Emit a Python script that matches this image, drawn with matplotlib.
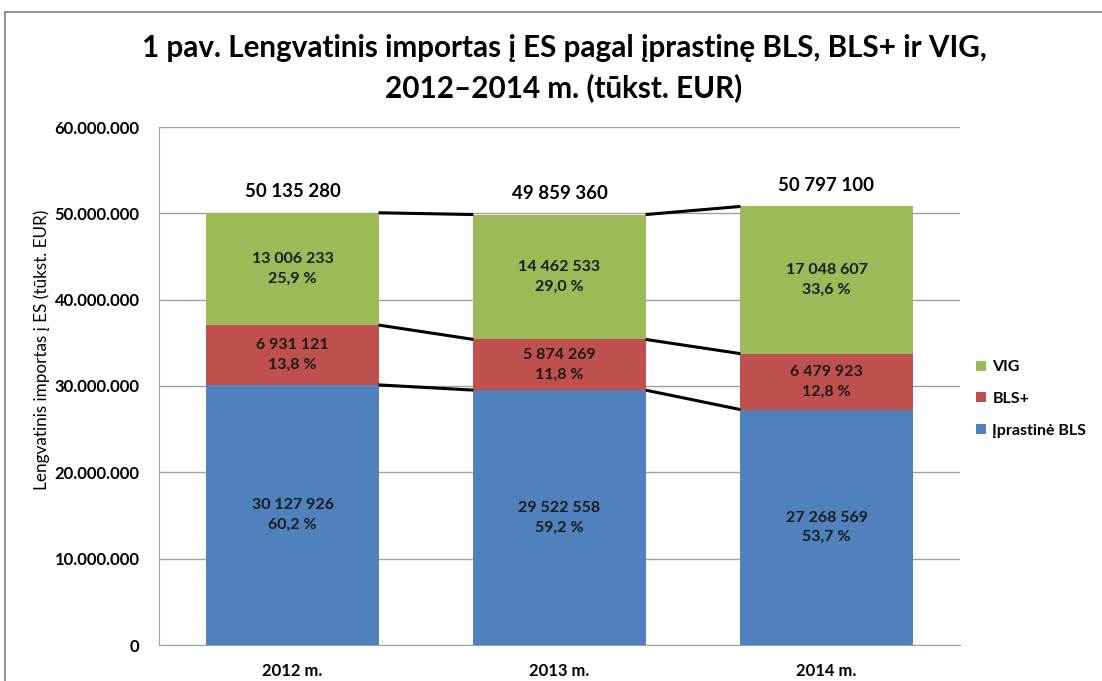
import matplotlib
matplotlib.use("Agg")
import matplotlib.pyplot as plt
import numpy as np
from matplotlib.lines import Line2D

plt.rcParams['font.family'] = ['Lato', 'DejaVu Sans']
plt.rcParams['font.weight'] = 'bold'

years = ["2012 m.", "2013 m.", "2014 m."]
series_names = ["Įprastinė BLS", "BLS+", "VIG"]
iprastine = [30127926, 29522558, 27268569]
bls_plus = [6931121, 5874269, 6479923]
vig = [13006233, 14462533, 17048607]
totals = [50135280, 49859360, 50797100]
pct_iprastine = ["60,2 %", "59,2 %", "53,7 %"]
pct_bls_plus = ["13,8 %", "11,8 %", "12,8 %"]
pct_vig = ["25,9 %", "29,0 %", "33,6 %"]
yticks = [0, 10000000, 20000000, 30000000, 40000000, 50000000, 60000000]
ytick_labels = ["0", "10.000.000", "20.000.000", "30.000.000", "40.000.000", "50.000.000", "60.000.000"]

colors = ["#4F81BD", "#C0504D", "#9BBB59"]

W, H = 1102, 681
fig = plt.figure(figsize=(W/100, H/100), dpi=100)
ax = fig.add_axes([159/W, 1-645/H, (960-159)/W, (645-127)/H])

x = np.arange(len(years))
bw = 0.645
data = [iprastine, bls_plus, vig]
pcts = [pct_iprastine, pct_bls_plus, pct_vig]
bottom = np.zeros(len(years))

def fmt(v):
    return f"{v:,}".replace(",", " ")

bars = []
for s, (vals, col, name, pc) in enumerate(zip(data, colors, series_names, pcts)):
    b = ax.bar(x, vals, bw, bottom=bottom, color=col, label=name, zorder=3)
    bars.append(b)
    for i in range(len(years)):
        ax.text(x[i], bottom[i] + vals[i]/2, fmt(vals[i]) + "\n" + pc[i],
                ha='center', va='center', fontsize=11.5, fontweight='bold',
                color='#1a1a1a', zorder=5, linespacing=1.5)
    bottom = bottom + np.array(vals)
    # series lines between bars
    for i in range(len(years)-1):
        ax.plot([x[i]+bw/2, x[i+1]-bw/2], [bottom[i], bottom[i+1]],
                color='black', lw=2.2, zorder=4, solid_capstyle='butt')

for i in range(len(years)):
    ax.text(x[i], totals[i] + 1400000, fmt(totals[i]), ha='center', va='bottom',
            fontsize=13.5, fontweight='bold', color='black')

ax.set_xlim(-0.5, 2.5)
ax.set_ylim(0, 60000000)
ax.set_yticks(yticks)
ax.set_yticklabels(ytick_labels)
ax.set_xticks(x)
ax.set_xticklabels(years)
ax.tick_params(axis='y', length=0, pad=14, labelsize=12)
ax.tick_params(axis='x', length=0, pad=13, labelsize=12)
for lab in ax.get_xticklabels() + ax.get_yticklabels():
    lab.set_fontweight('bold')
ax.grid(axis='y', color='#a0a0a0', lw=1, zorder=0)
ax.set_axisbelow(True)
for sp in ['top', 'right']:
    ax.spines[sp].set_visible(False)
ax.spines['left'].set_color('#a0a0a0')
ax.spines['bottom'].set_color('#a0a0a0')

fig.text(42/W, 1-350/H, "Lengvatinis importas į ES (tūkst. EUR)", rotation=90,
         ha='center', va='center', fontsize=12.3, fontweight='normal')

fig.text(564/W, 1-48/H, "1 pav. Lengvatinis importas į ES pagal įprastinę BLS, BLS+ ir VIG,",
         ha='center', va='center', fontsize=21.3, fontweight='bold')
fig.text(564/W, 1-88/H, "2012–2014 m. (tūkst. EUR)",
         ha='center', va='center', fontsize=21.3, fontweight='bold')

handles = [bars[2], bars[1], bars[0]]
labels = ["VIG", "BLS+", "Įprastinė BLS"]
leg = fig.legend(handles, labels, loc='upper left', bbox_to_anchor=(970/W, 1-354/H),
                 frameon=False, fontsize=11.5, handlelength=0.6, handleheight=0.6,
                 handletextpad=0.4, labelspacing=1.1, borderaxespad=0)
for t in leg.get_texts():
    t.set_fontweight('bold')

# outer border (cropped)
fig.add_artist(Line2D([5/W, 1], [1-12/H, 1-12/H], color='#808080', lw=1.2, transform=fig.transFigure))
fig.add_artist(Line2D([5/W, 5/W], [0, 1-12/H], color='#808080', lw=1.2, transform=fig.transFigure))

fig.savefig("out.png", dpi=100)
